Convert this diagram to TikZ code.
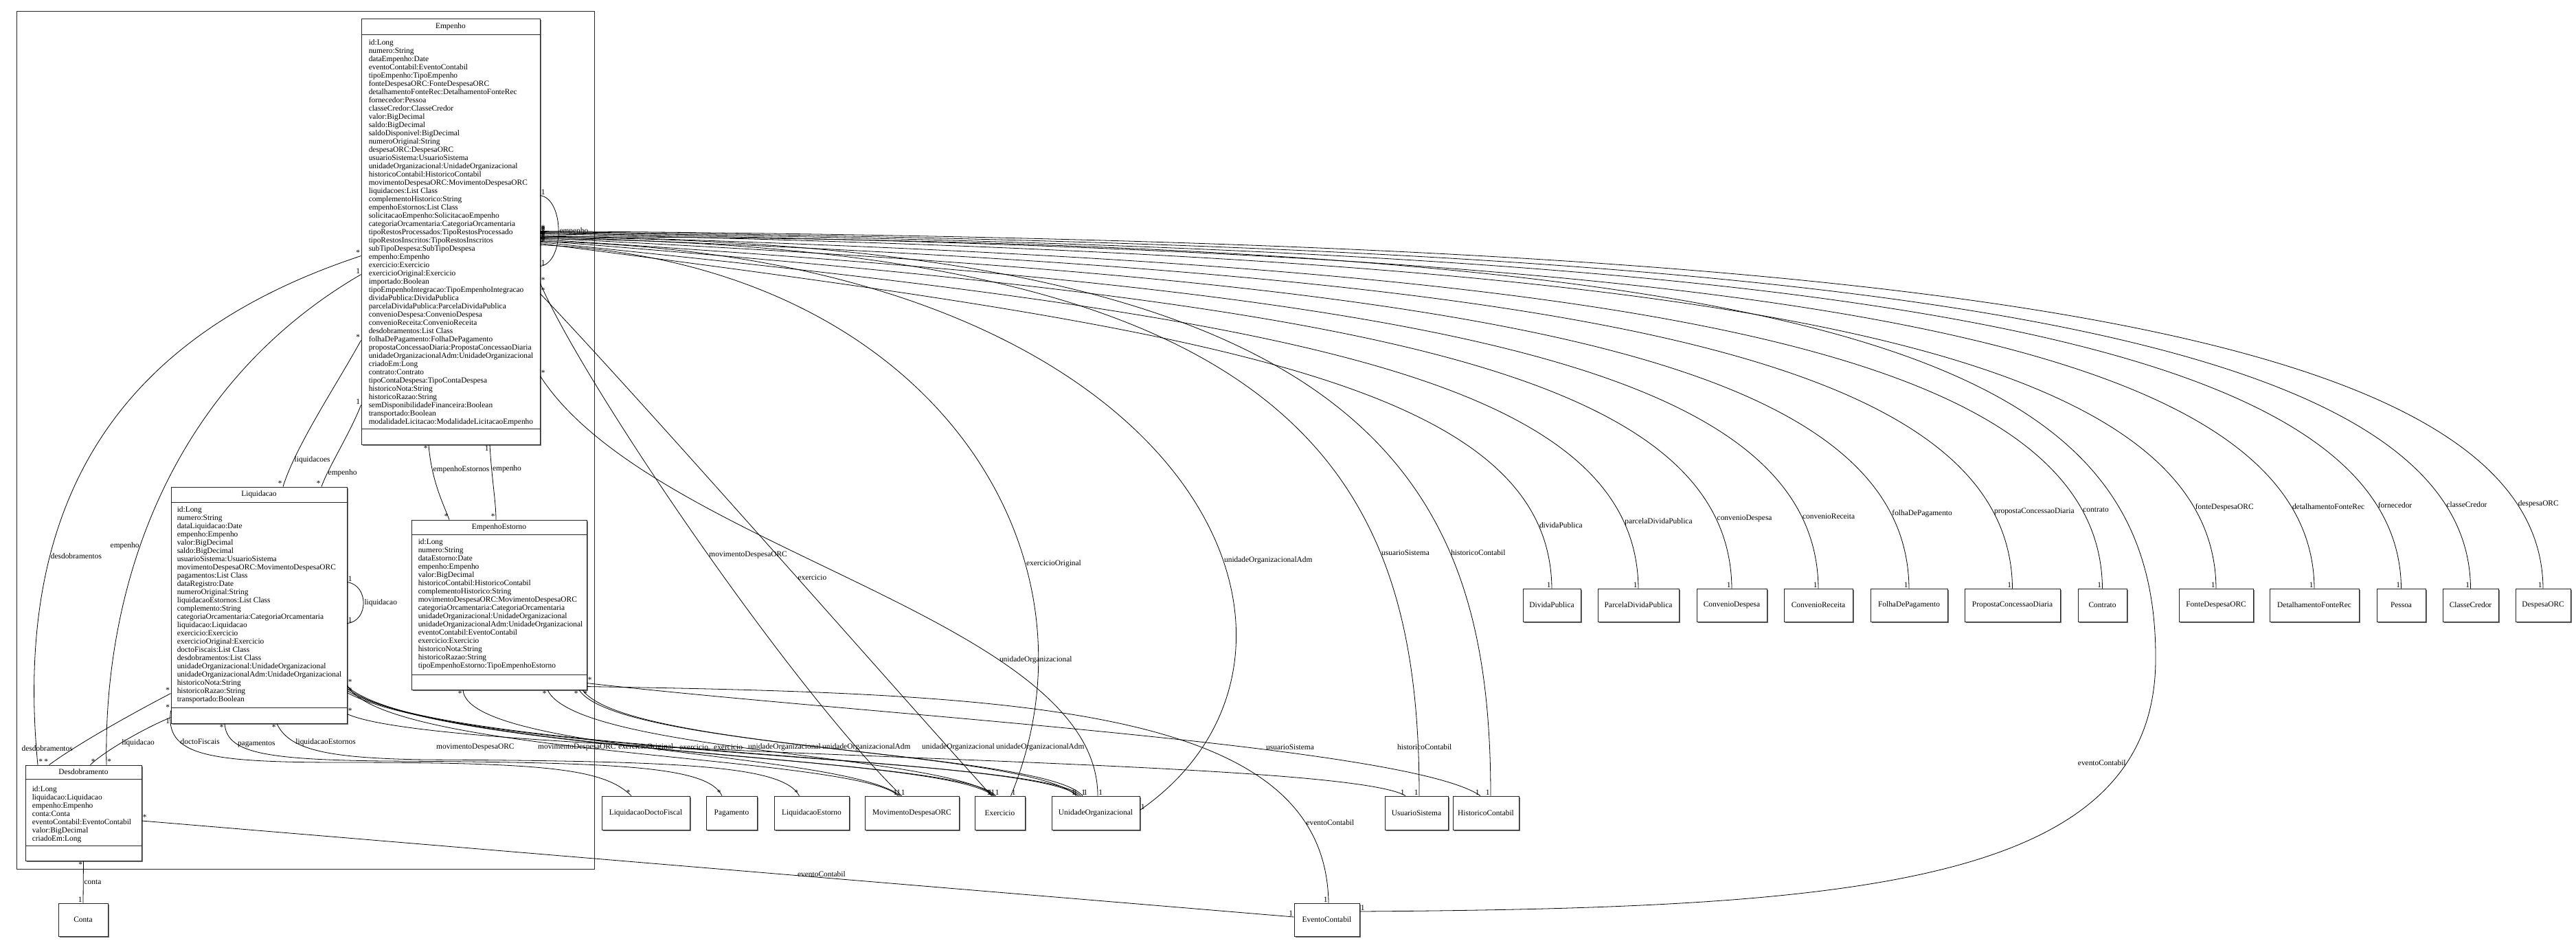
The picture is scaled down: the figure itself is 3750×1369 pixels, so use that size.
\documentclass[tikz,border=0pt]{standalone}
\usepackage{fontspec}
\setmainfont{Liberation Serif}
\usetikzlibrary{shadows,calc}
\newcommand\umlfont{\fontsize{11.4}{12}\selectfont}
\begin{document}
\begin{tikzpicture}[x=1pt,y=-1pt,
  cls/.style={draw=black!85, fill=white, line width=0.9pt, inner sep=0pt,
    drop shadow={shadow xshift=1.5pt, shadow yshift=-1.5pt, fill=black!55, opacity=1}},
  box/.style={cls, font=\umlfont},
  pkgbox/.style={draw=black!85, line width=0.9pt, inner sep=0pt},
  sep/.style={draw=black!85, line width=0.9pt},
  ttl/.style={font=\umlfont, inner sep=0pt},
  attr/.style={font=\umlfont, align=left, inner sep=0pt, anchor=north west},
  assoc/.style={draw=black, line width=0.8pt},
  lbl/.style={font=\umlfont, inner sep=1pt},
  mult/.style={font=\umlfont, inner sep=1pt}]
\useasboundingbox (0,0) rectangle (3750,1369);
\fill[white] (0,0) rectangle (3750,1369);

% package
\node[pkgbox, minimum width=841pt, minimum height=1249pt] (pkg) at (444.5,640.5) {};

% ---------- Empenho
\node[cls, minimum width=260pt, minimum height=620pt] (emp) at (656,337) {};
\draw[sep] ([yshift=-24pt]emp.north west) -- ([yshift=-24pt]emp.north east);
\draw[sep] ([yshift=23pt]emp.south west) -- ([yshift=23pt]emp.south east);
\node[ttl] (emp-t) at ([yshift=-12pt]emp.north) {Empenho};
\node[attr] (emp-a) at ([shift={(11pt,-31pt)}]emp.north west) {id:Long\\numero:String\\dataEmpenho:Date\\eventoContabil:EventoContabil\\tipoEmpenho:TipoEmpenho\\fonteDespesaORC:FonteDespesaORC\\detalhamentoFonteRec:DetalhamentoFonteRec\\fornecedor:Pessoa\\classeCredor:ClasseCredor\\valor:BigDecimal\\saldo:BigDecimal\\saldoDisponivel:BigDecimal\\numeroOriginal:String\\despesaORC:DespesaORC\\usuarioSistema:UsuarioSistema\\unidadeOrganizacional:UnidadeOrganizacional\\historicoContabil:HistoricoContabil\\movimentoDespesaORC:MovimentoDespesaORC\\liquidacoes:List Class\\complementoHistorico:String\\empenhoEstornos:List Class\\solicitacaoEmpenho:SolicitacaoEmpenho\\categoriaOrcamentaria:CategoriaOrcamentaria\\tipoRestosProcessados:TipoRestosProcessado\\tipoRestosInscritos:TipoRestosInscritos\\subTipoDespesa:SubTipoDespesa\\empenho:Empenho\\exercicio:Exercicio\\exercicioOriginal:Exercicio\\importado:Boolean\\tipoEmpenhoIntegracao:TipoEmpenhoIntegracao\\dividaPublica:DividaPublica\\parcelaDividaPublica:ParcelaDividaPublica\\convenioDespesa:ConvenioDespesa\\convenioReceita:ConvenioReceita\\desdobramentos:List Class\\folhaDePagamento:FolhaDePagamento\\propostaConcessaoDiaria:PropostaConcessaoDiaria\\unidadeOrganizacionalAdm:UnidadeOrganizacional\\criadoEm:Long\\contrato:Contrato\\tipoContaDespesa:TipoContaDespesa\\historicoNota:String\\historicoRazao:String\\semDisponibilidadeFinanceira:Boolean\\transportado:Boolean\\modalidadeLicitacao:ModalidadeLicitacaoEmpenho};

% ---------- Liquidacao
\node[cls, minimum width=256pt, minimum height=344pt] (liq) at (377,881) {};
\draw[sep] ([yshift=-23pt]liq.north west) -- ([yshift=-23pt]liq.north east);
\draw[sep] ([yshift=23pt]liq.south west) -- ([yshift=23pt]liq.south east);
\node[ttl] (liq-t) at ([yshift=-11.5pt]liq.north) {Liquidacao};
\node[attr] (liq-a) at ([shift={(9pt,-28.5pt)}]liq.north west) {id:Long\\numero:String\\dataLiquidacao:Date\\empenho:Empenho\\valor:BigDecimal\\saldo:BigDecimal\\usuarioSistema:UsuarioSistema\\movimentoDespesaORC:MovimentoDespesaORC\\pagamentos:List Class\\dataRegistro:Date\\numeroOriginal:String\\liquidacaoEstornos:List Class\\complemento:String\\categoriaOrcamentaria:CategoriaOrcamentaria\\liquidacao:Liquidacao\\exercicio:Exercicio\\exercicioOriginal:Exercicio\\doctoFiscais:List Class\\desdobramentos:List Class\\unidadeOrganizacional:UnidadeOrganizacional\\unidadeOrganizacionalAdm:UnidadeOrganizacional\\historicoNota:String\\historicoRazao:String\\transportado:Boolean};

% ---------- EmpenhoEstorno
\node[cls, minimum width=255pt, minimum height=247pt] (est) at (726.5,880.5) {};
\draw[sep] ([yshift=-22pt]est.north west) -- ([yshift=-22pt]est.north east);
\draw[sep] ([yshift=22pt]est.south west) -- ([yshift=22pt]est.south east);
\node[ttl] (est-t) at ([yshift=-11pt]est.north) {EmpenhoEstorno};
\node[attr] (est-a) at ([shift={(10pt,-28pt)}]est.north west) {id:Long\\numero:String\\dataEstorno:Date\\empenho:Empenho\\valor:BigDecimal\\historicoContabil:HistoricoContabil\\complementoHistorico:String\\movimentoDespesaORC:MovimentoDespesaORC\\categoriaOrcamentaria:CategoriaOrcamentaria\\unidadeOrganizacional:UnidadeOrganizacional\\unidadeOrganizacionalAdm:UnidadeOrganizacional\\eventoContabil:EventoContabil\\exercicio:Exercicio\\historicoNota:String\\historicoRazao:String\\tipoEmpenhoEstorno:TipoEmpenhoEstorno};

% ---------- Desdobramento
\node[cls, minimum width=169pt, minimum height=139pt] (des) at (121.5,1183.5) {};
\draw[sep] ([yshift=-21pt]des.north west) -- ([yshift=-21pt]des.north east);
\draw[sep] ([yshift=22pt]des.south west) -- ([yshift=22pt]des.south east);
\node[ttl] (des-t) at ([yshift=-10.5pt]des.north) {Desdobramento};
\node[attr] (des-a) at ([shift={(10pt,-30.5pt)}]des.north west) {id:Long\\liquidacao:Liquidacao\\empenho:Empenho\\conta:Conta\\eventoContabil:EventoContabil\\valor:BigDecimal\\criadoEm:Long};

% ---------- simple boxes
\node[box, minimum width=72pt, minimum height=48pt] (conta) at (121,1339) {Conta};
\node[box, minimum width=95pt, minimum height=48pt] (ec) at (1931.5,1339) {EventoContabil};

\node[box, minimum width=128pt, minimum height=49pt] (ldf) at (940,1183.5) {LiquidacaoDoctoFiscal};
\node[box, minimum width=74pt, minimum height=49pt] (pag) at (1065,1183.5) {Pagamento};
\node[box, minimum width=109pt, minimum height=49pt] (le) at (1181.5,1183.5) {LiquidacaoEstorno};
\node[box, minimum width=137pt, minimum height=49pt] (mdo) at (1327.5,1183.5) {MovimentoDespesaORC};
\node[box, minimum width=73pt, minimum height=49pt] (exer) at (1455.5,1183.5) {Exercicio};
\node[box, minimum width=128pt, minimum height=49pt] (uo) at (1595,1183.5) {UnidadeOrganizacional};
\node[box, minimum width=92pt, minimum height=49pt] (us) at (2062,1183.5) {UsuarioSistema};
\node[box, minimum width=96pt, minimum height=49pt] (hc) at (2163,1183.5) {HistoricoContabil};

\node[box, minimum width=84pt, minimum height=48pt] (dp) at (2259,881) {DividaPublica};
\node[box, minimum width=118pt, minimum height=48pt] (pdp) at (2385,881) {ParcelaDividaPublica};
\node[box, minimum width=102pt, minimum height=48pt] (cd) at (2521,881) {ConvenioDespesa};
\node[box, minimum width=100pt, minimum height=48pt] (cr) at (2647,881) {ConvenioReceita};
\node[box, minimum width=112pt, minimum height=48pt] (fdp) at (2779,881) {FolhaDePagamento};
\node[box, minimum width=139pt, minimum height=48pt] (pcd) at (2929.5,881) {PropostaConcessaoDiaria};
\node[box, minimum width=71pt, minimum height=48pt] (ctr) at (3060.5,881) {Contrato};
\node[box, minimum width=108pt, minimum height=48pt] (fdo) at (3226,881) {FonteDespesaORC};
\node[box, minimum width=130pt, minimum height=48pt] (dfr) at (3369,881) {DetalhamentoFonteRec};
\node[box, minimum width=71pt, minimum height=48pt] (pes) at (3495.5,881) {Pessoa};
\node[box, minimum width=81pt, minimum height=48pt] (cc) at (3596.5,881) {ClasseCredor};
\node[box, minimum width=80pt, minimum height=48pt] (dorc) at (3702,881) {DespesaORC};

% ================= connectors =================
% self loops
\draw[assoc] ([yshift=-258pt]emp.north east) node[mult,anchor=south west] (m-sl1) {1}
  .. controls (822,290) and (822,383) .. ([yshift=-361pt]emp.north east)
  node[lbl,pos=0.5,anchor=west] (l-sl) {empenho}
  node[mult,pos=1,anchor=south west] (m-sl2) {1};
\draw[assoc] ([yshift=-139pt]liq.north east) node[mult,anchor=south west] (m-ll1) {1}
  .. controls (537,852) and (537,904) .. ([yshift=-199pt]liq.north east)
  node[lbl,pos=0.5,anchor=west] (l-ll) {liquidacao}
  node[mult,pos=1,anchor=south west] (m-ll2) {1};

% Empenho fan to the right-hand classes
\foreach \t/\xt/\d/\yb/\lab in {dorc/3702/310/350/despesaORC, cc/3596.5/311/355/classeCredor, pes/3495.5/312/360/fornecedor, dfr/3369/313/366/detalhamentoFonteRec, fdo/3226/314/373/fonteDespesaORC, ctr/3060.5/316/385/contrato, pcd/2929.5/318/397/propostaConcessaoDiaria, fdp/2779/320/410/folhaDePagamento, cr/2647/322/425/convenioReceita, cd/2521/324/440/convenioDespesa, pdp/2385/326/458/parcelaDividaPublica, dp/2259/328/478/dividaPublica}
{\draw[assoc] ([yshift={-\d pt}]emp.north east) node[mult,anchor=south west] (s-\t) {*}
   .. controls ({\xt-0.35*(\xt-786)},\yb) and ({\xt-3},{\yb+0.2*(857-\yb)}) .. (\t.north)
   node[lbl,pos=0.89,anchor=west] (lab-\t) {\lab}
   node[mult,pos=1,anchor=south east] (m-\t) {1};}

% Empenho -> EventoContabil
\draw[assoc] ([yshift=-318pt]emp.north east) node[mult,anchor=south west] (s-ec1) {*}
  .. controls (2700,348) and (3140,520) .. (3138,960)
  .. controls (3137,1290) and (2700,1322) .. ([yshift=12pt]ec.east)
  node[lbl,pos=0.18,anchor=east] (l-ec1) {eventoContabil}
  node[mult,pos=1,anchor=south west] (m-ec1) {1};

% Empenho -> bottom row
\draw[assoc] ([yshift=-386pt]emp.north east) node[mult,anchor=south west] (s-mdo1) {*}
  .. controls (850,560) and (1150,1000) .. ([xshift=-15pt]mdo.north)
  node[lbl,pos=0.53,anchor=west] (l-mdo1) {movimentoDespesaORC}
  node[mult,pos=1,anchor=south east] (m-mdo1) {1};
\draw[assoc] ([yshift=-401pt]emp.north east) node[mult,anchor=south west] (s-ex1) {*}
  .. controls (950,600) and (1300,1000) .. ([xshift=-12pt]exer.north)
  node[lbl,pos=0.55,anchor=west] (l-ex1) {exercicio}
  node[mult,pos=1,anchor=south east] (m-ex1) {1};
\draw[assoc] ([yshift=-330pt]emp.north east) node[mult,anchor=south west] (s-exo1) {*}
  .. controls (1350,380) and (1620,800) .. ([xshift=16pt]exer.north)
  node[lbl,pos=0.69,anchor=west] (l-exo1) {exercicioOriginal}
  node[mult,pos=1,anchor=south west] (m-exo1) {1};
\draw[assoc] ([yshift=-521pt]emp.north east) node[mult,anchor=south west] (s-uo1) {*}
  .. controls (950,800) and (1598,900) .. ([xshift=3pt]uo.north)
  node[lbl,pos=0.7,anchor=west] (l-uo1) {unidadeOrganizacional}
  node[mult,pos=1,anchor=south west] (m-uo1) {1};
\draw[assoc] ([yshift=-325pt]emp.north east) node[mult,anchor=south west] (s-uoa1) {*}
  .. controls (1750,370) and (1990,950) .. ([yshift=4pt]uo.east)
  node[lbl,pos=0.62,anchor=west] (l-uoa1) {unidadeOrganizacionalAdm}
  node[mult,pos=1,anchor=south west] (m-uoa1) {1};
\draw[assoc] ([yshift=-321pt]emp.north east) node[mult,anchor=south west] (s-us1) {*}
  .. controls (1900,355) and (2066,700) .. ([xshift=4pt]us.north)
  node[lbl,pos=0.72,anchor=west] (l-us1) {usuarioSistema}
  node[mult,pos=1,anchor=south east] (m-us1) {1};
\draw[assoc] ([yshift=-319pt]emp.north east) node[mult,anchor=south west] (s-hc1) {*}
  .. controls (2000,350) and (2170,700) .. ([xshift=7pt]hc.north)
  node[lbl,pos=0.72,anchor=west] (l-hc1) {historicoContabil}
  node[mult,pos=1,anchor=south east] (m-hc1) {1};

% Empenho <-> Desdobramento
\draw[assoc] ([yshift=-346pt]emp.north west) node[mult,anchor=south east] (s-dd1) {*}
  .. controls (200,480) and (15,700) .. ([xshift=-66.5pt]des.north)
  node[lbl,pos=0.72,anchor=west] (l-dd1) {desdobramentos}
  node[mult,pos=1,anchor=south west] (m-dd1) {*};
\draw[assoc] ([xshift=33.5pt]des.north) node[mult,anchor=south west] (s-de1) {*}
  .. controls (150,850) and (250,560) .. ([yshift=-373pt]emp.north west)
  node[lbl,pos=0.4,anchor=east] (l-de1) {empenho}
  node[mult,pos=1,anchor=south east] (m-de1) {1};

% Empenho <-> Liquidacao
\draw[assoc] ([yshift=-469pt]emp.north west) node[mult,anchor=south east] (s-lq1) {*}
  .. controls (490,560) and (430,650) .. ([xshift=35pt]liq.north)
  node[lbl,pos=0.8,anchor=west] (l-lq1) {liquidacoes}
  node[mult,pos=1,anchor=south east] (m-lq1) {*};
\draw[assoc] ([xshift=91pt]liq.north) node[mult,anchor=south east] (s-le1) {*}
  .. controls (478,680) and (510,630) .. ([yshift=-563pt]emp.north west)
  node[lbl,pos=0.2,anchor=west] (l-le1) {empenho}
  node[mult,pos=1,anchor=south east] (m-le1) {1};

% Empenho <-> EmpenhoEstorno
\draw[assoc] ([xshift=-32pt]emp.south) node[mult,anchor=north east] (s-es1) {*}
  .. controls (628,700) and (646,735) .. ([xshift=-72.5pt]est.north)
  node[lbl,pos=0.25,anchor=west] (l-es1) {empenhoEstornos}
  node[mult,pos=1,anchor=south east] (m-es1) {*};
\draw[assoc] ([xshift=57pt]emp.south) node[mult,anchor=north east] (s-ee1) {1}
  .. controls (716,700) and (722,730) .. ([xshift=-4.5pt]est.north)
  node[lbl,pos=0.25,anchor=west] (l-ee1) {empenho}
  node[mult,pos=1,anchor=south east] (m-ee1) {*};

% Liquidacao -> LiquidacaoDoctoFiscal, Pagamento, LiquidacaoEstorno
\draw[assoc] ([yshift=-326pt]liq.north west) node[mult,anchor=south east] (s-ldf) {*}
  .. controls (240,1100) and (300,1110) .. (500,1110)
  node[lbl,pos=0.3,anchor=west] (l-ldf) {doctoFiscais}
  .. controls (800,1110) and (880,1120) .. ([xshift=-21pt]ldf.north)
  node[mult,pos=1,anchor=south east] (m-ldf) {*};
\draw[assoc] ([xshift=-50pt]liq.south) node[mult,anchor=north east] (s-pag) {*}
  .. controls (330,1095) and (380,1106) .. (560,1108)
  node[lbl,pos=0.3,anchor=west] (l-pag) {pagamentos}
  .. controls (900,1110) and (1030,1115) .. ([xshift=-14pt]pag.north)
  node[mult,pos=1,anchor=south east] (m-pag) {*};
\draw[assoc] ([xshift=26pt]liq.south) node[mult,anchor=north east] (s-le) {*}
  .. controls (420,1090) and (470,1104) .. (620,1106)
  node[lbl,pos=0.3,anchor=west] (l-le) {liquidacaoEstornos}
  .. controls (1000,1108) and (1140,1115) .. ([xshift=-18pt]le.north)
  node[mult,pos=1,anchor=south east] (m-le) {*};

% Liquidacao -> bottom row
\draw[assoc] ([yshift=-289pt]liq.north east) node[mult,anchor=south west] (s-mdo2) {*}
  .. controls (560,1100) and (1250,1100) .. ([xshift=-20pt]mdo.north)
  node[mult,pos=1,anchor=south east] (m-mdo2) {1};
\draw[assoc] ([yshift=-291pt]liq.north east) node[mult,anchor=north west] (s-exo2) {*}
  .. controls (620,1098) and (1380,1098) .. ([xshift=-10pt]exer.north)
  node[mult,pos=1,anchor=south east] (m-exo2) {1};
\draw[assoc] ([yshift=-294pt]liq.north east)
  .. controls (640,1100) and (1400,1100) .. ([xshift=-6pt]exer.north)
  node[mult,pos=1,anchor=south east] (m-ex2) {1};
\draw[assoc] ([yshift=-297pt]liq.north east)
  .. controls (660,1100) and (1500,1098) .. ([xshift=-25pt]uo.north)
  node[mult,pos=1,anchor=south east] (m-uo2) {1};
\draw[assoc] ([yshift=-300pt]liq.north east)
  .. controls (680,1102) and (1520,1100) .. ([xshift=-22pt]uo.north)
  node[mult,pos=1,anchor=south west] (m-uoa2) {1};
\draw[assoc] ([yshift=-331pt]liq.north east) node[mult,anchor=south west] (s-us2) {*}
  .. controls (650,1105) and (1950,1100) .. ([xshift=-16pt]us.north)
  node[mult,pos=1,anchor=south east] (m-us2) {1};

% EmpenhoEstorno -> bottom row / EventoContabil
\draw[assoc] ([xshift=-52.5pt]est.south) node[mult,anchor=north east] (s-mdo3) {*}
  .. controls (680,1095) and (1230,1095) .. ([xshift=-17pt]mdo.north)
  node[mult,pos=1,anchor=south west] (m-mdo3) {1};
\draw[assoc] ([xshift=70.5pt]est.south) node[mult,anchor=north east] (s-ex3) {*}
  .. controls (840,1095) and (1380,1098) .. ([xshift=-8pt]exer.north)
  node[mult,pos=1,anchor=south west] (m-ex3) {1};
\draw[assoc] ([xshift=116.5pt]est.south) node[mult,anchor=north east] (s-uo3) {*}
  .. controls (900,1090) and (1500,1092) .. ([xshift=-28pt]uo.north)
  node[mult,pos=1,anchor=south east] (m-uo3) {1};
\draw[assoc] ([xshift=121.5pt]est.south) node[mult,anchor=north west] (s-uoa3) {*}
  .. controls (910,1092) and (1520,1094) .. ([xshift=-19pt]uo.north)
  node[mult,pos=1,anchor=south west] (m-uoa3) {1};
\draw[assoc] ([yshift=-238pt]est.north east) node[mult,anchor=south west] (s-hc3) {*}
  .. controls (1250,1040) and (2050,1085) .. ([xshift=-8pt]hc.north)
  node[mult,pos=1,anchor=south east] (m-hc3) {1};
\draw[assoc] ([yshift=-243pt]est.north east)
  .. controls (1500,1010) and (1930,1030) .. ([xshift=2.5pt]ec.north)
  node[lbl,pos=0.84,anchor=west] (l-ec3) {eventoContabil}
  node[mult,pos=1,anchor=south east] (m-ec3) {1};

% labels of the lower bundle
\node[lbl,anchor=west] (l-mdo2) at (634,1088) {movimentoDespesaORC};
\node[lbl,anchor=west] (l-mdo3) at (782,1088) {movimentoDespesaORC};
\node[lbl,anchor=west] (l-exo2) at (899,1088) {exercicioOriginal};
\node[lbl,anchor=west] (l-ex2) at (988,1088) {exercicio};
\node[lbl,anchor=west] (l-ex3) at (1038,1088) {exercicio};
\node[lbl,anchor=west] (l-uo2) at (1088,1088) {unidadeOrganizacional};
\node[lbl,anchor=west] (l-uoa2) at (1196,1088) {unidadeOrganizacionalAdm};
\node[lbl,anchor=west] (l-uo3) at (1341,1088) {unidadeOrganizacional};
\node[lbl,anchor=west] (l-uoa3) at (1449,1088) {unidadeOrganizacionalAdm};
\node[lbl,anchor=west] (l-us2) at (1842,1088) {usuarioSistema};
\node[lbl,anchor=west] (l-hc3) at (2033,1088) {historicoContabil};

% Desdobramento <-> Liquidacao
\draw[assoc] ([yshift=-301pt]liq.north west) node[mult,anchor=south east] (s-dd2) {*}
  .. controls (190,1040) and (110,1085) .. ([xshift=-50pt]des.north)
  node[lbl,pos=0.75,anchor=east] (l-dd2) {desdobramentos}
  node[mult,pos=1,anchor=south east] (m-dd2) {*};
\draw[assoc] ([xshift=10pt]des.north) node[mult,anchor=south west] (s-dl2) {*}
  .. controls (150,1095) and (210,1060) .. ([yshift=-336pt]liq.north west)
  node[lbl,pos=0.45,anchor=west] (l-dl2) {liquidacao}
  node[mult,pos=1,anchor=north east] (m-dl2) {1};

% Desdobramento -> EventoContabil, Conta
\draw[assoc] ([yshift=-11.5pt]des.east) node[mult,anchor=south west] (s-ec2) {*}
  -- ([yshift=4pt]ec.west)
  node[lbl,pos=0.59,anchor=south] (l-ec2) {eventoContabil}
  node[mult,pos=1,anchor=south east] (m-ec2) {1};
\draw[assoc] (des.south) node[mult,anchor=north east] (s-ct) {*}
  -- (conta.north)
  node[lbl,pos=0.5,anchor=west] (l-ct) {conta}
  node[mult,pos=1,anchor=south east] (m-ct) {1};
\end{tikzpicture}
\end{document}
